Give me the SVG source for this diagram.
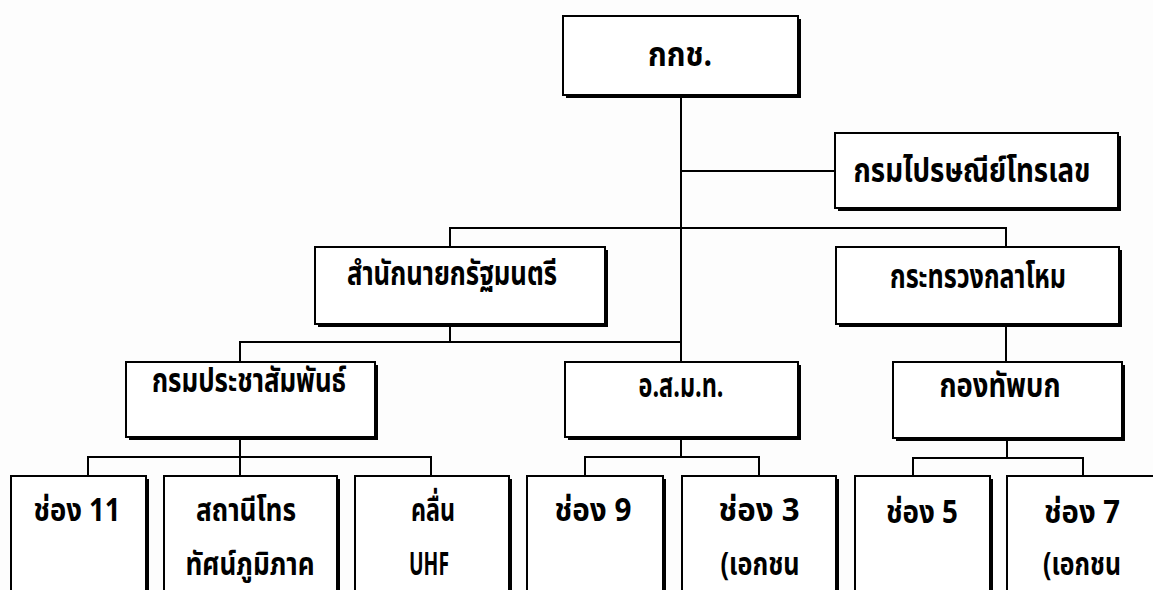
<svg xmlns="http://www.w3.org/2000/svg" width="1153" height="590" viewBox="0 0 1153 590">
<style>
.bg{fill:#fdfdfd}
.sh{fill:#000}
.bx{fill:#fff;stroke:#000;stroke-width:2}
.ln{fill:none;stroke:#000;stroke-width:2}
.t1{font-family:'Noto Sans Thai','Noto Sans','DejaVu Sans',sans-serif;font-weight:bold;font-size:34px;fill:#000;text-anchor:middle}
.t2{font-family:'Noto Sans Thai','Noto Sans','DejaVu Sans',sans-serif;font-weight:bold;font-size:32px;fill:#000;text-anchor:middle}
</style>
<rect class="bg" x="0" y="0" width="1153" height="590"/>
<g id="connectors">
<path class="ln" d="M681,95V362"/>
<path class="ln" d="M681,171H835"/>
<path class="ln" d="M450,247V228H1006V247"/>
<path class="ln" d="M450,324V342H681"/>
<path class="ln" d="M240,362V342H450"/>
<path class="ln" d="M1006,324V362"/>
<path class="ln" d="M240,437V476"/>
<path class="ln" d="M88,476V457H431V476"/>
<path class="ln" d="M681,437V457"/>
<path class="ln" d="M585,476V457H759V476"/>
<path class="ln" d="M1007,438V458"/>
<path class="ln" d="M913,476V458H1083V476"/>
</g>
<g id="n_kkch">
<rect class="sh" x="566" y="19" width="235" height="79"/>
<rect class="bx" x="563" y="16" width="235" height="79"/>
<text class="t1" x="680" y="66" textLength="64" lengthAdjust="spacingAndGlyphs">กกช.</text>
</g>
<g id="n_post">
<rect class="sh" x="838" y="136" width="283" height="75"/>
<rect class="bx" x="835" y="133" width="283" height="75"/>
<text class="t1" x="972" y="182" textLength="237" lengthAdjust="spacingAndGlyphs">กรมไปรษณีย์โทรเลข</text>
</g>
<g id="n_pm">
<rect class="sh" x="318" y="250" width="290" height="77"/>
<rect class="bx" x="315" y="247" width="290" height="77"/>
<text class="t1" x="452" y="285" textLength="210" lengthAdjust="spacingAndGlyphs">สำนักนายกรัฐมนตรี</text>
</g>
<g id="n_def">
<rect class="sh" x="839" y="250" width="283" height="77"/>
<rect class="bx" x="836" y="247" width="283" height="77"/>
<text class="t1" x="978" y="288" textLength="176" lengthAdjust="spacingAndGlyphs">กระทรวงกลาโหม</text>
</g>
<g id="n_prd">
<rect class="sh" x="129" y="365" width="249" height="75"/>
<rect class="bx" x="126" y="362" width="249" height="75"/>
<text class="t1" x="249" y="392" textLength="194" lengthAdjust="spacingAndGlyphs">กรมประชาสัมพันธ์</text>
</g>
<g id="n_mcot">
<rect class="sh" x="568" y="365" width="233" height="75"/>
<rect class="bx" x="565" y="362" width="233" height="75"/>
<text class="t1" x="681" y="397" textLength="85" lengthAdjust="spacingAndGlyphs">อ.ส.ม.ท.</text>
</g>
<g id="n_army">
<rect class="sh" x="896" y="365" width="229" height="76"/>
<rect class="bx" x="893" y="362" width="229" height="76"/>
<text class="t1" x="1000" y="397" textLength="121" lengthAdjust="spacingAndGlyphs">กองทัพบก</text>
</g>
<g id="n_ch11">
<rect class="sh" x="14" y="479" width="135" height="130"/>
<rect class="bx" x="11" y="476" width="135" height="130"/>
<text class="t2" x="77" y="521" textLength="87" lengthAdjust="spacingAndGlyphs">ช่อง 11</text>
</g>
<g id="n_station">
<rect class="sh" x="167" y="479" width="173" height="130"/>
<rect class="bx" x="164" y="476" width="173" height="130"/>
<text class="t2" x="246" y="521" textLength="100" lengthAdjust="spacingAndGlyphs">สถานีโทร</text>
<text class="t2" x="250" y="575" textLength="129" lengthAdjust="spacingAndGlyphs">ทัศน์ภูมิภาค</text>
</g>
<g id="n_uhf">
<rect class="sh" x="358" y="479" width="154" height="130"/>
<rect class="bx" x="355" y="476" width="154" height="130"/>
<text class="t2" x="433" y="521" textLength="44" lengthAdjust="spacingAndGlyphs">คลื่น</text>
<text class="t2" x="429" y="575" textLength="40" lengthAdjust="spacingAndGlyphs">UHF</text>
</g>
<g id="n_ch9">
<rect class="sh" x="530" y="479" width="136" height="130"/>
<rect class="bx" x="527" y="476" width="136" height="130"/>
<text class="t2" x="593" y="521" textLength="77" lengthAdjust="spacingAndGlyphs">ช่อง 9</text>
</g>
<g id="n_ch3">
<rect class="sh" x="685" y="479" width="154" height="130"/>
<rect class="bx" x="682" y="476" width="154" height="130"/>
<text class="t2" x="759" y="521" textLength="81" lengthAdjust="spacingAndGlyphs">ช่อง 3</text>
<text class="t2" x="760" y="575" textLength="79" lengthAdjust="spacingAndGlyphs">(เอกชน</text>
</g>
<g id="n_ch5">
<rect class="sh" x="858" y="479" width="135" height="130"/>
<rect class="bx" x="855" y="476" width="135" height="130"/>
<text class="t2" x="922" y="523" textLength="72" lengthAdjust="spacingAndGlyphs">ช่อง 5</text>
</g>
<g id="n_ch7">
<rect class="sh" x="1010" y="479" width="158" height="130"/>
<rect class="bx" x="1007" y="476" width="158" height="130"/>
<text class="t2" x="1082" y="523" textLength="76" lengthAdjust="spacingAndGlyphs">ช่อง 7</text>
<text class="t2" x="1082" y="575" textLength="78" lengthAdjust="spacingAndGlyphs">(เอกชน</text>
</g>
</svg>
